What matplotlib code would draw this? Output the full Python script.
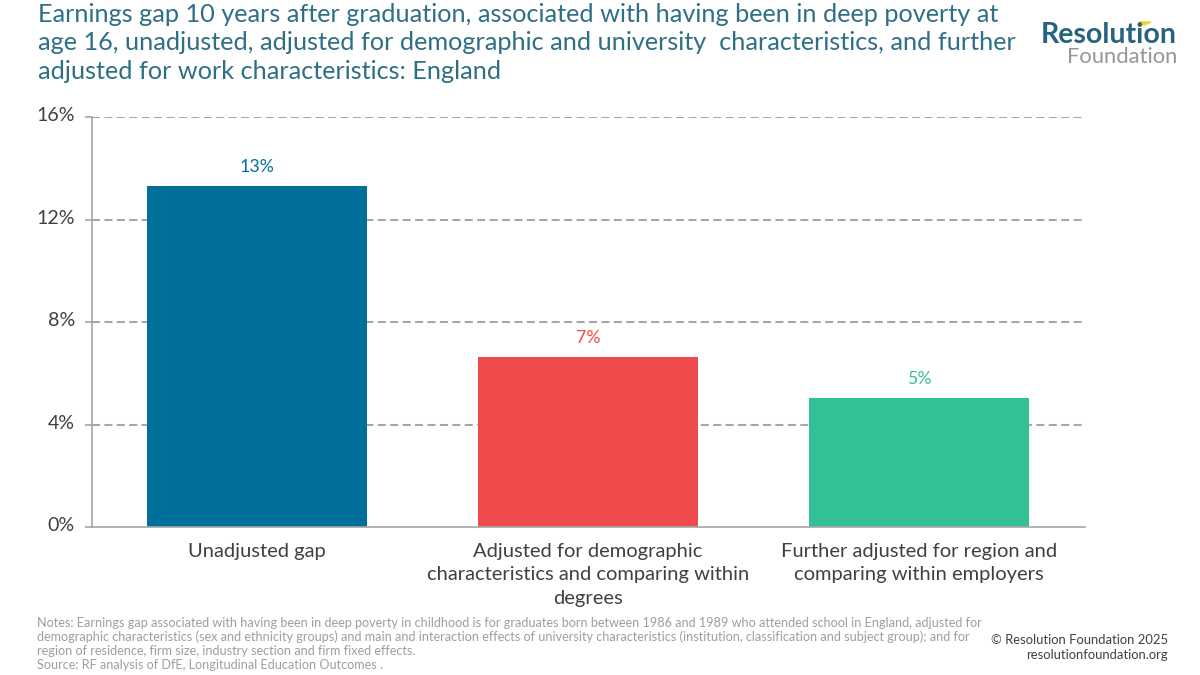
import matplotlib
matplotlib.use("Agg")
import matplotlib.pyplot as plt
from matplotlib.patches import Polygon
from matplotlib.transforms import ScaledTranslation

plt.rcParams['font.family'] = ['Lato', 'DejaVu Sans']

categories = ["Unadjusted gap",
              "Adjusted for demographic\ncharacteristics and comparing within\ndegrees",
              "Further adjusted for region and\ncomparing within employers"]
values = [13.3, 6.63, 5.03]
bar_labels = ["13%", "7%", "5%"]
colors = ["#00709B", "#F04B4C", "#33C096"]
y_ticks = [0, 4, 8, 12, 16]
y_tick_labels = ["0%", "4%", "8%", "12%", "16%"]

title = ("Earnings gap 10 years after graduation, associated with having been in deep poverty at\n"
         "age 16, unadjusted, adjusted for demographic and university  characteristics, and further\n"
         "adjusted for work characteristics: England")
notes = ("Notes: Earnings gap associated with having been in deep poverty in childhood is for graduates born between 1986 and 1989 who attended school in England, adjusted for\n"
         "demographic characteristics (sex and ethnicity groups) and main and interaction effects of university characteristics (institution, classification and subject group); and for\n"
         "region of residence, firm size, industry section and firm fixed effects.\n"
         "Source: RF analysis of DfE, Longitudinal Education Outcomes .")

W, H = 1200, 675
fig = plt.figure(figsize=(W/100, H/100), dpi=100, facecolor="white")
ax = fig.add_axes([91.5/W, 1-527/H, 993/W, 410/H])
ax.set_xlim(-0.5, 2.5)
ax.set_ylim(0, 16)
ax.set_axisbelow(True)
ax.yaxis.grid(True, color="#A6A6A6", lw=1.45, dashes=(3.97, 2.2))
ax.xaxis.grid(False)
ax.bar(range(3), values, width=0.665, color=colors, zorder=2)
for i, (v, t, c) in enumerate(zip(values, bar_labels, colors)):
    ax.annotate(t, (i, v), xytext=(0, 8), textcoords="offset points", ha="center", va="bottom",
                fontsize=12.8, color=c)
for s in ("top", "right"):
    ax.spines[s].set_visible(False)
for s in ("left", "bottom"):
    ax.spines[s].set_color("#A6A6A6")
    ax.spines[s].set_linewidth(1.2)
ax.set_yticks(y_ticks, y_tick_labels, fontsize=14.1, color="#404040")
ax.tick_params(axis="y", length=5, width=1.2, color="#A6A6A6", pad=7)
ax.yaxis.get_gridlines()[0].set_visible(False)
for lab in ax.get_yticklabels():
    lab.set_transform(lab.get_transform() + ScaledTranslation(0, 2/72, fig.dpi_scale_trans))
ax.set_xticks(range(3), categories, fontsize=14.5, color="#404040", linespacing=1.46)
ax.tick_params(axis="x", length=0, pad=11.5)

fig.text(38/W, 1-2.5/H, title, fontsize=18.2, color="#2F6F85", va="top", ha="left", linespacing=1.3)
fig.text(37/W, 1-617/H, notes, fontsize=9.05, color="#9E9E9E", va="top", ha="left", linespacing=1.17)
fig.text(1168/W, 1-634/H, "© Resolution Foundation 2025\nresolutionfoundation.org", fontsize=9.4, color="#404040",
         va="top", ha="right", linespacing=1.3)

fig.text(1177/W, 1-43/H, "Resolution", fontsize=20.5, fontweight="bold", color="#25637F", va="baseline", ha="right")
fig.text(1177/W, 1-63/H, "Foundation", fontsize=15.8, color="#969696", va="baseline", ha="right")
fig.add_artist(Polygon([(1140/W, 1-22/H), (1151/W, 1-22/H), (1144/W, 1-25/H), (1141/W, 1-25/H)],
                       closed=True, transform=fig.transFigure, color="#F2D21B"))
fig.savefig("out.png", dpi=100)
